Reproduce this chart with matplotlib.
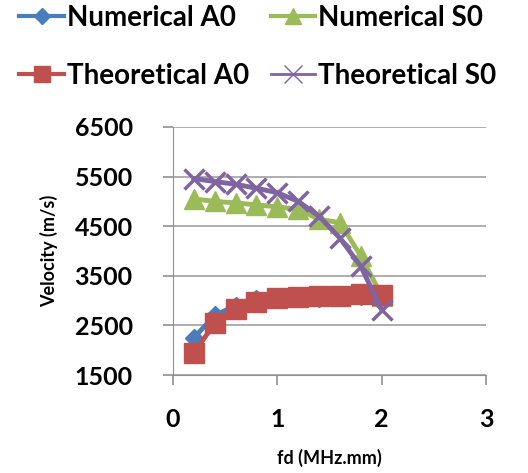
import matplotlib.pyplot as plt
from matplotlib.lines import Line2D

plt.rcParams['font.family'] = ['Lato', 'DejaVu Sans']
plt.rcParams['font.weight'] = 'bold'

fd = [0.2, 0.4, 0.6, 0.8, 1.0, 1.2, 1.4, 1.6, 1.8, 2.0]
num_a0 = [2250, 2700, 2900, 3030, 3080, 3070, 3050, 3070, 3100, 3080]
num_s0 = [5050, 5000, 4970, 4930, 4890, 4840, 4640, 4570, 3900, 3100]
theo_a0 = [1950, 2540, 2830, 2980, 3050, 3080, 3095, 3100, 3130, 3110]
theo_s0 = [5460, 5400, 5345, 5265, 5175, 5000, 4700, 4260, 3690, 2820]

blue = '#4A7EBB'
green = '#9BBB59'
red = '#C0504D'
purple = '#8064A2'

fig = plt.figure(figsize=(5.28, 4.73), dpi=100)
ax = fig.add_axes([173 / 528, 1 - 375 / 473, (486 - 173) / 528, (375 - 127) / 473])

ax.plot(fd, num_a0, color=blue, lw=3.5, marker='D', ms=9, label='Numerical A0')
ax.plot(fd, num_s0, color=green, lw=3.5, marker='^', ms=14, label='Numerical S0')
ax.plot(fd, theo_a0, color=red, lw=3.5, marker='s', ms=14, label='Theoretical A0')
ax.plot(fd, theo_s0, color=purple, lw=3.5, marker='x', ms=15, mew=2.5,
        label='Theoretical S0')

ax.set_xlim(0, 3)
ax.set_ylim(1500, 6500)
ax.set_xticks([0, 1, 2, 3])
ax.set_yticks([1500, 2500, 3500, 4500, 5500, 6500])
ax.grid(axis='y', color='#A0A0A0', lw=1.2)
ax.set_axisbelow(True)
for s in ['top', 'right']:
    ax.spines[s].set_visible(False)
ax.spines['left'].set_color('#909090')
ax.spines['bottom'].set_color('#909090')
ax.tick_params(axis='both', colors='#909090', labelcolor='black', labelsize=18,
               length=7, width=1.2)
ax.tick_params(axis='y', pad=22)
ax.tick_params(axis='x', pad=17)
ax.set_xlabel('fd (MHz.mm)', fontsize=13, fontweight='bold', labelpad=13)
ax.set_ylabel('Velocity (m/s)', fontsize=13, fontweight='bold', labelpad=12)

handles = [
    Line2D([], [], color=blue, lw=3, marker='D', ms=8),
    Line2D([], [], color=red, lw=3, marker='s', ms=11),
    Line2D([], [], color=green, lw=3, marker='^', ms=11),
    Line2D([], [], color=purple, lw=2, marker='x', ms=13, mew=1),
]
labels = ['Numerical A0', 'Theoretical A0', 'Numerical S0', 'Theoretical S0']
fig.legend(handles, labels, ncol=2, loc='upper left', bbox_to_anchor=(0.005, 1.025),
           frameon=False, fontsize=20, handlelength=1.6, handletextpad=0.1,
           columnspacing=0.8, labelspacing=1.15, borderaxespad=0.2)

fig.savefig('out.png', dpi=100)
